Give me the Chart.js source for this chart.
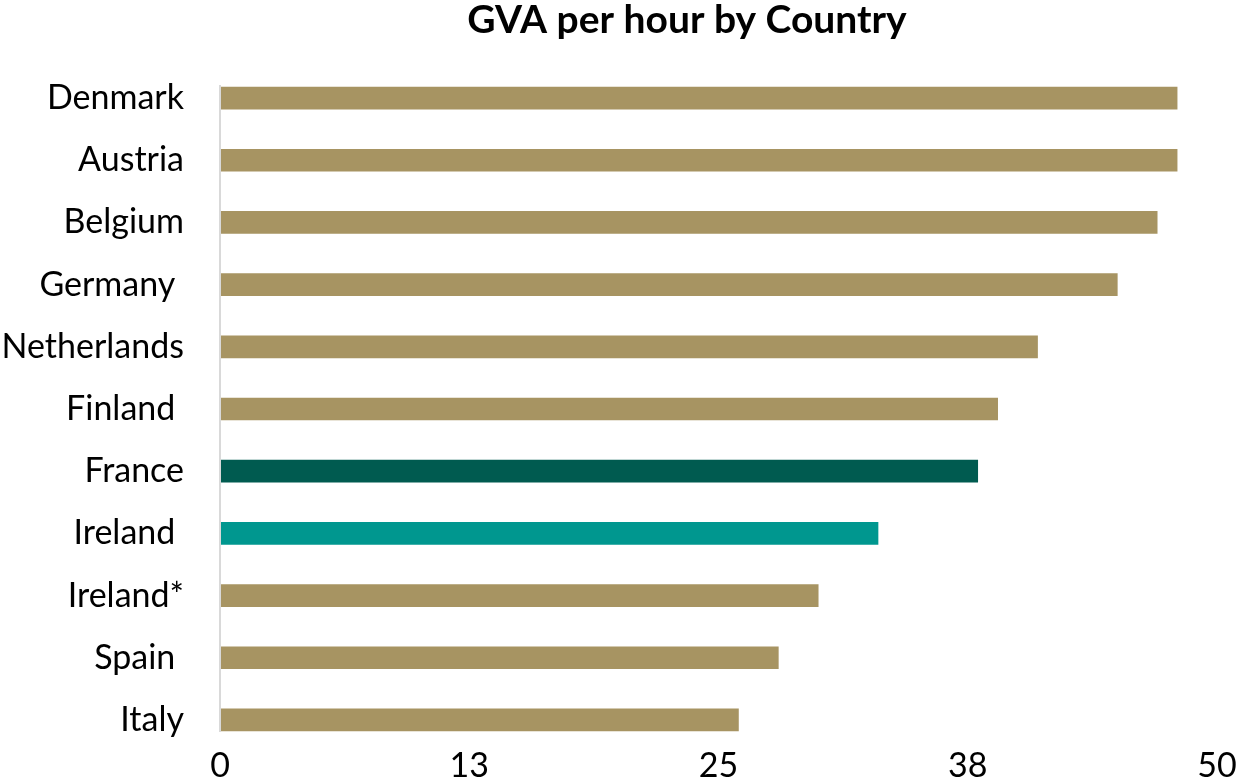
<!DOCTYPE html>
<html>
<head>
<meta charset="utf-8">
<script src="https://cdn.jsdelivr.net/npm/chart.js@4"></script>
<style>
  html, body { margin: 0; padding: 0; background: #fff; }
  #wrap { width: 1237px; height: 784px; }
</style>
</head>
<body>
<div id="wrap"><canvas id="gva-chart"></canvas></div>
<script>
// data
const countries = ["Denmark", "Austria", "Belgium", "Germany ", "Netherlands", "Finland ",
                   "France", "Ireland ", "Ireland*", "Spain ", "Italy"];
const gvaPerHour = [48, 48, 47, 45, 41, 39, 38, 33, 30, 28, 26];
const barColours = ["#A79462", "#A79462", "#A79462", "#A79462", "#A79462", "#A79462",
                    "#005B50", "#00978F", "#A79462", "#A79462", "#A79462"];
const xTicks = [0, 12.5, 25, 37.5, 50];

const FONT = "Lato, 'Noto Sans', sans-serif";

// title centred over the plot, and axis line spanning only the bars
const extras = {
  id: 'extras',
  afterDraw(chart) {
    const ctx = chart.ctx;
    const bars = chart.getDatasetMeta(0).data;
    const x0 = chart.scales.x.getPixelForValue(0);
    const first = bars[0], last = bars[bars.length - 1];
    ctx.save();
    ctx.strokeStyle = '#D9D9D9';
    ctx.lineWidth = 2;
    ctx.beginPath();
    ctx.moveTo(x0, first.y - first.height / 2 - 2);
    ctx.lineTo(x0, last.y + last.height / 2 + 1);
    ctx.stroke();

    ctx.fillStyle = '#000';
    ctx.font = "bold 39px " + FONT;
    ctx.textAlign = 'center';
    ctx.textBaseline = 'middle';
    ctx.fillText('GVA per hour by Country', 687, 20);
    ctx.restore();
  }
};

new Chart(document.getElementById("gva-chart"), {
  type: 'bar',
  data: {
    labels: countries,
    datasets: [{
      label: "GVA per hour",
      data: gvaPerHour,
      backgroundColor: barColours,
      barThickness: 22
    }]
  },
  options: {
    indexAxis: 'y',
    responsive: true,
    maintainAspectRatio: false,
    animation: false,
    layout: { padding: { top: 67, right: 20, left: 0, bottom: 0 } },
    plugins: {
      legend: { display: false },
      title: { display: false },
      tooltip: { enabled: false }
    },
    scales: {
      x: {
        min: 0,
        max: 50,
        afterBuildTicks(scale) {
          scale.ticks = xTicks.map(v => ({ value: v }));
        },
        afterFit(scale) { scale.height = 33; },
        grid: { display: false, drawTicks: false },
        border: { display: false },
        ticks: {
          padding: -5,
          color: '#000',
          font: { family: FONT, size: 34 },
          maxRotation: 0,
          callback: v => Math.round(v)
        }
      },
      y: {
        afterFit(scale) {
          scale.width = 220;
          scale.paddingTop = 0;
          scale.paddingBottom = 0;
        },
        grid: { display: false, drawTicks: false },
        border: { display: false },
        ticks: {
          padding: 36,
          color: '#000',
          font: { family: FONT, size: 34 }
        }
      }
    }
  },
  plugins: [extras]
});
</script>
</body>
</html>
